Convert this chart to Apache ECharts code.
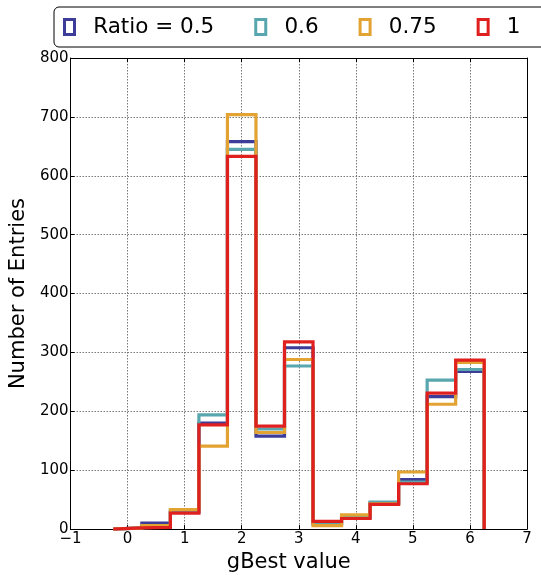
<!DOCTYPE html>
<html>
<head>
<meta charset="utf-8">
<script src="https://cdn.jsdelivr.net/npm/echarts@6/dist/echarts.min.js"></script>
<style>
  html, body { margin: 0; padding: 0; background: #fff; overflow: hidden; }
  #chart { width: 541px; height: 578px; }
</style>
</head>
<body>
<div id="chart"></div>
<script>
// Histogram bin edges (width 0.5, centred on multiples of 0.5)
const binEdges = [-0.25, 0.25, 0.75, 1.25, 1.75, 2.25, 2.75, 3.25, 3.75, 4.25, 4.75, 5.25, 5.75, 6.25];

// Entries per bin for each ratio
const ratioNames = ['Ratio = 0.5', '0.6', '0.75', '1'];
const counts05  = [2, 10, 29, 180, 658, 158, 308, 9, 20, 44, 84, 225, 268];
const counts06  = [2, 4, 32, 194, 645, 170, 277, 11, 20, 46, 80, 253, 271];
const counts075 = [2, 6, 33, 141, 704, 164, 288, 6, 24, 43, 97, 212, 283];
const counts1   = [2, 3, 27, 177, 633, 175, 318, 13, 18, 42, 77, 231, 287];

const xTicks = [-1, 0, 1, 2, 3, 4, 5, 6, 7];
const yTicks = [0, 100, 200, 300, 400, 500, 600, 700, 800];

const colors = ['#3d3d99', '#58a6ae', '#e2a332', '#e0201e'];
const FONT = 'DejaVu Sans';

// Step outline: rise at the first edge, one point per bin, drop after the last edge
function stepData(counts) {
  const pts = [[binEdges[0], 0]];
  counts.forEach((c, i) => pts.push([binEdges[i], c]));
  pts.push([binEdges[binEdges.length - 1], 0]);
  return pts;
}

const allCounts = [counts05, counts06, counts075, counts1];

const series = allCounts.map((c, i) => ({
  name: ratioNames[i],
  type: 'line',
  step: 'end',
  data: stepData(c),
  showSymbol: false,
  symbol: 'none',
  lineStyle: { color: colors[i], width: 3.2, join: 'miter', cap: 'butt' },
  itemStyle: { color: colors[i] },
  z: 3 + i,
  animation: false
}));

const minusFmt = v => (v < 0 ? '\u2212' + Math.abs(v) : String(v));

const chart = echarts.init(document.getElementById('chart'), null, { renderer: 'canvas', width: 541, height: 578 });
chart.setOption({
  animation: false,
  backgroundColor: '#fff',
  textStyle: { fontFamily: FONT },
  grid: { left: 68, top: 58, width: 459, height: 474, containLabel: false },
  legend: {
    left: 54, top: 7,
    width: 700,
    orient: 'horizontal',
    padding: [9, 90, 9, 9],
    itemGap: 40,
    itemWidth: 10,
    itemHeight: 15,
    borderColor: '#000',
    borderWidth: 1,
    borderRadius: 5,
    backgroundColor: '#fff',
    // a little extra room between each key and its label
    formatter: name => '\u00a0\u00a0' + name,
    textStyle: { fontFamily: FONT, fontSize: 21.5, color: '#000' },
    data: ratioNames.map((n, i) => ({
      name: n,
      icon: 'rect',
      itemStyle: { color: 'rgba(0,0,0,0)', borderColor: colors[i], borderWidth: 3 }
    }))
  },
  xAxis: [{
    type: 'value',
    min: xTicks[0], max: xTicks[xTicks.length - 1], interval: 1,
    name: 'gBest value',
    nameLocation: 'middle',
    nameGap: 20,
    nameTextStyle: { fontFamily: FONT, fontSize: 21, color: '#000', padding: [0, 20, 0, 0] },
    axisLine: { show: true, onZero: false, lineStyle: { color: '#000', width: 1 } },
    axisTick: { show: true, inside: true, length: 4, lineStyle: { color: '#000' } },
    axisLabel: { fontFamily: FONT, fontSize: 15, color: '#000', margin: 3, formatter: minusFmt },
    splitLine: { show: true, lineStyle: { color: '#777', width: 1, type: [1.5, 1.5] } }
  }, {
    type: 'value', position: 'top',
    min: xTicks[0], max: xTicks[xTicks.length - 1], interval: 1,
    axisLine: { show: true, onZero: false, lineStyle: { color: '#000', width: 1 } },
    axisTick: { show: true, inside: true, length: 4, lineStyle: { color: '#000' } },
    axisLabel: { show: false },
    splitLine: { show: false }
  }],
  yAxis: [{
    type: 'value',
    min: yTicks[0], max: yTicks[yTicks.length - 1], interval: 100,
    name: 'Number of Entries',
    nameLocation: 'middle',
    nameGap: 24,
    nameRotate: 90,
    nameTextStyle: { fontFamily: FONT, fontSize: 21, color: '#000' },
    axisLine: { show: true, onZero: false, lineStyle: { color: '#000', width: 1 } },
    axisTick: { show: true, inside: true, length: 4, lineStyle: { color: '#000' } },
    axisLabel: { fontFamily: FONT, fontSize: 15, color: '#000', margin: 2 },
    splitLine: { show: true, lineStyle: { color: '#777', width: 1, type: [1.5, 1.5] } }
  }, {
    type: 'value', position: 'right',
    min: yTicks[0], max: yTicks[yTicks.length - 1], interval: 100,
    axisLine: { show: true, onZero: false, lineStyle: { color: '#000', width: 1 } },
    axisTick: { show: true, inside: true, length: 4, lineStyle: { color: '#000' } },
    axisLabel: { show: false },
    splitLine: { show: false }
  }],
  series: series
});
</script>
</body>
</html>
